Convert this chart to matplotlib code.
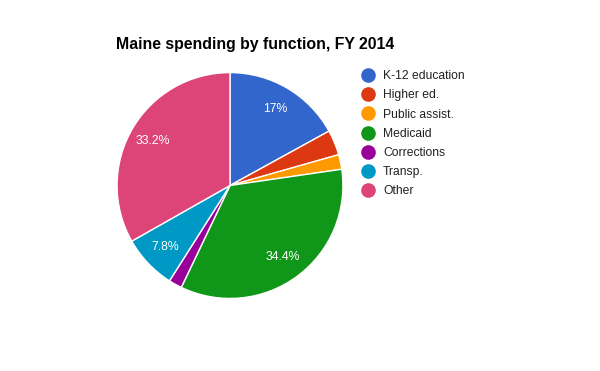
import matplotlib
matplotlib.use('Agg')
import matplotlib.pyplot as plt
from matplotlib.lines import Line2D

# Maine spending by function, FY 2014 (share of total, %)
categories = ['K-12 education', 'Higher ed.', 'Public assist.', 'Medicaid',
              'Corrections', 'Transp.', 'Other']
shares = [17.0, 3.6, 2.1, 34.4, 1.9, 7.8, 33.2]
colors = ['#3366cc', '#dc3912', '#ff9900', '#109618', '#990099', '#0099c6', '#dd4477']

plt.rcParams['font.family'] = ['Liberation Sans', 'DejaVu Sans']

W, H = 600, 371
fig = plt.figure(figsize=(W / 100, H / 100), dpi=100)

# pie area: roughly x 116..344, y 72..299 in pixels
ax = fig.add_axes([116 / W, (H - 299) / H, 228 / W, 227 / H])


def pct_label(p):
    # Google Charts hides labels on thin slices
    return f'{p:.3g}%' if p > 5 else ''


wedges, texts, autotexts = ax.pie(
    shares, colors=colors, startangle=90, counterclock=False,
    autopct=pct_label, pctdistance=0.79,
    wedgeprops=dict(edgecolor='white', linewidth=1),
    textprops=dict(color='white', fontsize=8.8))
ax.set_xlim(-1.005, 1.005)
ax.set_ylim(-1.005, 1.005)
ax.set_aspect('equal')

fig.text(116 / W, 1 - 45 / H, 'Maine spending by function, FY 2014',
         fontsize=11.4, fontweight='bold', va='center', ha='left', color='black')

handles = [Line2D([0], [0], marker='o', linestyle='none', markersize=9.5,
                  markerfacecolor=c, markeredgecolor=c) for c in colors]
fig.legend(handles, categories, loc='upper left',
           bbox_to_anchor=(363 / W, 1 - 70 / H), frameon=False,
           fontsize=8.7, handlelength=0.9, handletextpad=0.75,
           labelspacing=0.6, borderaxespad=0, borderpad=0,
           labelcolor='#222222')

fig.savefig('out.png', dpi=100)
